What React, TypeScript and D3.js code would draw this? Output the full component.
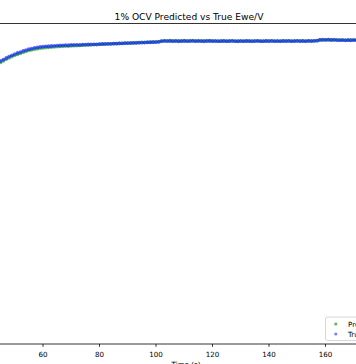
import React from "react";
import * as d3 from "d3";

// Sample times (s): one sample per second, starting at 43 s
const tStart = 43;
const tStep = 1;

// True Ewe/V (blue)
const trueValues = [
  3.4093, 3.4137, 3.4181, 3.4212, 3.4247, 3.4278, 3.4306, 3.4333, 3.4356, 3.4376,
  3.4400, 3.4420, 3.4440, 3.4453, 3.4468, 3.4477, 3.4488, 3.4494, 3.4501, 3.4503,
  3.4509, 3.4512, 3.4518, 3.4520, 3.4523, 3.4526, 3.4525, 3.4530, 3.4531, 3.4534,
  3.4533, 3.4537, 3.4539, 3.4541, 3.4543, 3.4546, 3.4545, 3.4550, 3.4552, 3.4553,
  3.4556, 3.4557, 3.4561, 3.4562, 3.4565, 3.4566, 3.4570, 3.4572, 3.4573, 3.4576,
  3.4577, 3.4581, 3.4583, 3.4584, 3.4588, 3.4590, 3.4592, 3.4595, 3.4600, 3.4617,
  3.4619, 3.4616, 3.4618, 3.4614, 3.4617, 3.4612, 3.4615, 3.4618, 3.4613, 3.4616,
  3.4619, 3.4614, 3.4617, 3.4615, 3.4612, 3.4616, 3.4618, 3.4614, 3.4617, 3.4613,
  3.4615, 3.4618, 3.4614, 3.4616, 3.4619, 3.4615, 3.4612, 3.4617, 3.4614, 3.4618,
  3.4616, 3.4613, 3.4617, 3.4619, 3.4615, 3.4614, 3.4618, 3.4616, 3.4620, 3.4615,
  3.4617, 3.4614, 3.4618, 3.4616, 3.4619, 3.4615, 3.4617, 3.4620, 3.4616, 3.4618,
  3.4615, 3.4619, 3.4617, 3.4621, 3.4624, 3.4642, 3.4645, 3.4643, 3.4646, 3.4641,
  3.4644, 3.4638, 3.4635, 3.4637, 3.4633, 3.4636, 3.4634, 3.4637, 3.4635, 3.4638,
];

// Predicted Ewe/V (green)
const predictedValues = [
  3.4072, 3.4112, 3.4154, 3.4186, 3.4220, 3.4251, 3.4279, 3.4306, 3.4328, 3.4349,
  3.4372, 3.4392, 3.4411, 3.4426, 3.4440, 3.4451, 3.4462, 3.4469, 3.4476, 3.4480,
  3.4486, 3.4490, 3.4496, 3.4499, 3.4503, 3.4507, 3.4508, 3.4514, 3.4516, 3.4520,
  3.4521, 3.4526, 3.4529, 3.4532, 3.4535, 3.4539, 3.4540, 3.4545, 3.4548, 3.4550,
  3.4554, 3.4556, 3.4560, 3.4562, 3.4565, 3.4567, 3.4571, 3.4573, 3.4575, 3.4578,
  3.4580, 3.4583, 3.4586, 3.4588, 3.4591, 3.4594, 3.4596, 3.4599, 3.4603, 3.4615,
  3.4622, 3.4621, 3.4624, 3.4620, 3.4623, 3.4619, 3.4622, 3.4625, 3.4620, 3.4623,
  3.4625, 3.4621, 3.4624, 3.4622, 3.4619, 3.4623, 3.4625, 3.4621, 3.4620, 3.4617,
  3.4618, 3.4620, 3.4616, 3.4618, 3.4621, 3.4617, 3.4614, 3.4619, 3.4616, 3.4620,
  3.4618, 3.4615, 3.4619, 3.4621, 3.4617, 3.4616, 3.4620, 3.4618, 3.4622, 3.4617,
  3.4619, 3.4616, 3.4620, 3.4618, 3.4621, 3.4617, 3.4619, 3.4622, 3.4618, 3.4620,
  3.4617, 3.4621, 3.4619, 3.4622, 3.4626, 3.4640, 3.4644, 3.4642, 3.4645, 3.4640,
  3.4645, 3.4641, 3.4639, 3.4641, 3.4638, 3.4640, 3.4639, 3.4642, 3.4640, 3.4643,
];

const xTicks = [60, 80, 100, 120, 140, 160];
const seriesLabels = ["Predicted", "True"];
const titleText = "1% OCV Predicted vs True Ewe/V";
const xLabelText = "Time (s)";

const W = 356;
const H = 364;
const axLeft = -4;
const axRight = 378;
const axTop = 23.5;
const axBottom = 344;

const FONT = "DejaVu Sans, sans-serif";
const GREEN = "#1a9a1a";
const BLUE = "#0a1eff";

export default function App() {
  const x = d3.scaleLinear().domain([60, 160]).range([43, 325.5]);
  const y = d3.scaleLinear().domain([2.8, 3.5]).range([axBottom, axTop]);

  const pred = predictedValues.map((v, i) => ({ t: tStart + i * tStep, v }));
  const tru = trueValues.map((v, i) => ({ t: tStart + i * tStep, v }));

  return (
    <svg
      width={W}
      height={H}
      style={{ position: "absolute", left: 0, top: 0, background: "#fff" }}
    >
      <defs>
        <clipPath id="axclip">
          <rect x={axLeft} y={axTop} width={axRight - axLeft} height={axBottom - axTop} />
        </clipPath>
      </defs>
      <rect x={0} y={0} width={W} height={H} fill="#fff" />
      <text
        x={189}
        y={19.5}
        textAnchor="middle"
        fontFamily={FONT}
        fontSize={9.1}
        fill="#000"
      >
        {titleText}
      </text>

      <g clipPath="url(#axclip)">
        {pred.map((d, i) => (
          <circle key={"p" + i} cx={x(d.t)} cy={y(d.v)} r={1.9} fill={GREEN} fillOpacity={0.65} />
        ))}
        {tru.map((d, i) => (
          <circle key={"t" + i} cx={x(d.t)} cy={y(d.v)} r={1.9} fill={BLUE} fillOpacity={0.65} />
        ))}
      </g>

      <line x1={axLeft} x2={axRight} y1={axTop} y2={axTop} stroke="#000" strokeWidth={0.8} />
      <line x1={axLeft} x2={axRight} y1={axBottom} y2={axBottom} stroke="#000" strokeWidth={0.8} />

      {xTicks.map((t) => (
        <g key={t}>
          <line x1={x(t)} x2={x(t)} y1={axBottom} y2={axBottom + 2.8} stroke="#000" strokeWidth={0.8} />
          <text
            x={x(t)}
            y={356.5}
            textAnchor="middle"
            fontFamily={FONT}
            fontSize={7.1}
            fill="#000"
          >
            {t}
          </text>
        </g>
      ))}
      <text
        x={186}
        y={366.5}
        textAnchor="middle"
        fontFamily={FONT}
        fontSize={7.1}
        fill="#000"
      >
        {xLabelText}
      </text>

      <g>
        <rect
          x={325.5}
          y={317}
          width={52}
          height={23.5}
          rx={2}
          fill="#fff"
          fillOpacity={0.8}
          stroke="#cccccc"
          strokeWidth={0.8}
        />
        <circle cx={335.8} cy={324} r={1.6} fill={GREEN} fillOpacity={0.7} />
        <circle cx={335.8} cy={334} r={1.6} fill={BLUE} fillOpacity={0.55} />
        <text x={348} y={326.5} fontFamily={FONT} fontSize={7.1} fill="#000">
          {seriesLabels[0]}
        </text>
        <text x={348} y={336.5} fontFamily={FONT} fontSize={7.1} fill="#000">
          {seriesLabels[1]}
        </text>
      </g>
    </svg>
  );
}
